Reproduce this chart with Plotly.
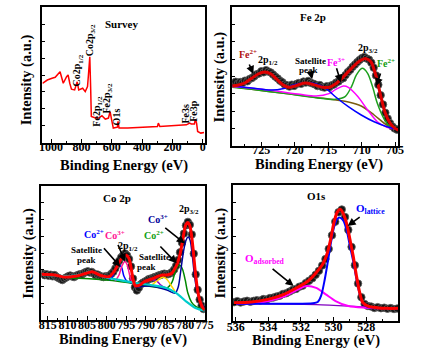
import plotly.graph_objects as go

W, H = 443, 353
FONT = "Liberation Serif"

# ---------------- Survey ----------------
survey_be = [1057, 1025, 994, 973, 941, 930, 920, 898, 888, 877, 866, 845, 828, 818, 792, 775, 760, 754, 745,
             739, 735, 707, 686, 665, 643, 622, 611, 601, 590, 563, 559, 552, 495, 299, 293, 283, 108, 87, 76,
             55, 49, 41, 34, 13, -8]
survey_int = [43.9, 46.3, 47.6, 48.3, 52.4, 48.8, 43.9, 48.8, 50, 43.9, 39.5, 39, 45, 39, 40.2, 37.7, 41.4, 50,
              63.5, 39, 19.3, 18.2, 18.2, 19.9, 17.4, 18.2, 23, 16.9, 10.8, 11.5, 15.7, 10.8, 10.8, 12, 14.5, 12,
              13.2, 14.5, 13.8, 13.8, 17.4, 14.5, 8.3, 7.1, 7.6]

# ---------------- Fe 2p ----------------
fe_data_be = [729.2, 728.85, 728.5, 728.15, 727.8, 727.45, 727.1, 726.75, 726.4, 726.05, 725.7, 725.35, 725.0,
              724.65, 724.3, 723.95, 723.6, 723.25, 722.9, 722.55, 722.2, 721.85, 721.5, 721.15, 720.8, 720.45,
              720.1, 719.75, 719.4, 719.05, 718.7, 718.35, 718.0, 717.65, 717.3, 716.95, 716.6, 716.25, 715.9,
              715.55, 715.2, 714.85, 714.5, 714.15, 713.8, 713.45, 713.1, 712.75, 712.4, 712.05, 711.7, 711.35,
              711.0, 710.65, 710.3, 709.95, 709.6, 709.25, 708.9, 708.55, 708.2, 707.85, 707.5, 707.15, 706.8,
              706.45, 706.1, 705.75, 705.4, 705.05, 704.7]
fe_data_int = [45.0, 46.2, 44.8, 46.0, 45.4, 47.0, 46.5, 48.2, 48.9, 50.1, 51.6, 52.2, 53.8, 53.0, 54.6, 53.6,
               52.9, 51.4, 49.9, 48.6, 46.9, 45.8, 44.2, 43.6, 42.7, 44.1, 43.2, 44.6, 45.3, 44.7, 46.3, 45.6,
               46.8, 45.4, 44.9, 44.2, 43.1, 43.8, 42.4, 42.0, 43.0, 42.3, 43.6, 44.2, 45.6, 46.4, 48.1, 48.8,
               51.0, 53.2, 54.8, 57.0, 58.6, 60.4, 62.0, 63.3, 64.1, 63.0, 62.2, 60.0, 56.4, 50.8, 44.0, 36.5,
               29.8, 23.8, 19.6, 16.3, 13.9, 12.4, 11.6]
fe_fit_be = [729.34, 728.37, 727.41, 726.45, 725.48, 724.52, 723.55, 722.59, 721.63, 720.90, 719.70, 718.73,
             718.01, 716.81, 715.84, 714.88, 713.92, 712.95, 711.99, 711.02, 710.06, 709.34, 708.61, 707.89,
             707.17, 706.45, 705.72, 705.0, 704.52]
fe_fit_int = [43.1, 43.9, 45.5, 48.7, 51.8, 53.3, 51.8, 47.5, 43.6, 42.2, 43.6, 45.1, 45.1, 43.6, 42.2, 42.2,
              44.6, 48.7, 53.5, 58.3, 61.9, 62.9, 60.7, 51.1, 36.6, 23.4, 16.1, 12.5, 11.3]
fe_sat_be = [729.34, 726.45, 723.55, 721.63, 720.18, 718.25, 716.81, 715.36, 713.92, 711.99, 710.06, 708.13,
             706.20, 704.52]
fe_sat_int = [43.1, 41.7, 40.2, 41.4, 43.9, 45.5, 44.6, 41.4, 35.4, 28.2, 22.2, 17.3, 13.7, 11.8]
fe3_be = [729.34, 724.04, 719.22, 716.81, 714.88, 713.92, 712.71, 711.99, 710.54, 709.10, 707.65, 706.20, 704.52]
fe3_int = [42.7, 40.2, 37.1, 35.9, 37.6, 40.5, 43.1, 42.2, 35.4, 25.8, 17.3, 13.3, 11.8]
fe2_be = [729.34, 726.45, 721.63, 716.81, 713.92, 712.47, 711.51, 710.78, 709.92, 709.10, 708.37, 707.65,
          706.69, 705.72, 704.52]
fe2_int = [42.2, 40.7, 37.8, 34.7, 33.5, 35.4, 42.7, 51.1, 55.9, 52.3, 42.7, 30.6, 19.8, 13.7, 11.8]
fe_bg_be = [729.34, 726.45, 721.63, 716.81, 711.99, 710.06, 708.13, 706.20, 704.52]
fe_bg_int = [42.7, 40.7, 37.8, 34.9, 31.6, 28.7, 22.2, 14.9, 11.8]

# ---------------- Co 2p ----------------
co_data_be = [816.3, 815.8, 815.3, 814.8, 814.3, 813.8, 813.3, 812.8, 812.3, 811.8, 811.3, 810.8, 810.3, 809.8,
              809.3, 808.8, 808.3, 807.8, 807.3, 806.8, 806.3, 805.8, 805.3, 804.8, 804.3, 803.8, 803.3, 802.8,
              802.3, 801.8, 801.3, 800.8, 800.3, 799.8, 799.3, 798.8, 798.3, 797.8, 797.3, 796.8, 796.3, 795.8,
              795.3, 794.8, 794.3, 793.8, 793.3, 792.8, 792.3, 791.8, 791.3, 790.8, 790.3, 789.8, 789.3, 788.8,
              788.3, 787.8, 787.3, 786.8, 786.3, 785.8, 785.3, 784.8, 784.3, 783.8, 783.3, 782.8, 782.3, 781.8,
              781.3, 780.8, 780.3, 779.8, 779.3, 778.8, 778.3, 777.8, 777.3, 776.8, 776.3, 775.8, 775.3]
co_data_int = [34.6, 33.4, 34.1, 33.0, 33.8, 32.6, 33.5, 32.2, 31.4, 30.6, 29.8, 30.9, 31.8, 32.6, 33.2, 32.4,
               32.0, 33.1, 33.6, 34.2, 34.0, 35.1, 35.8, 36.3, 35.4, 35.9, 34.7, 33.4, 33.9, 33.0, 32.4, 32.0,
               32.7, 32.4, 33.3, 34.5, 36.0, 38.5, 41.6, 44.2, 46.8, 48.4, 49.6, 48.2, 45.5, 40.0, 31.0, 24.5,
               22.0, 24.0, 26.6, 27.8, 28.6, 29.4, 30.5, 30.9, 31.2, 32.0, 32.4, 33.2, 33.5, 34.1, 34.6, 33.9,
               34.3, 34.8, 35.9, 37.6, 40.4, 44.8, 50.5, 57.6, 64.5, 70.6, 73.2, 71.0, 63.8, 49.5, 34.0, 22.5,
               15.2, 10.8, 8.2]
co_fit_be = [816.63, 813.36, 810.89, 807.62, 805.16, 803.68, 801.85, 801.04, 799.39, 798.16, 796.93, 795.94,
             795.13, 794.32, 793.83, 793.23, 792.67, 791.61, 790.38, 788.74, 787.09, 785.86, 784.63, 783.38,
             782.57, 782.16, 781.34, 780.53, 779.86, 779.37, 778.87, 778.38, 777.89, 777.40, 776.83, 776.29,
             775.60, 775.06]
co_fit_int = [34.1, 33.6, 32.1, 32.8, 34.9, 36.0, 33.6, 32.8, 32.3, 36.0, 42.3, 47.2, 48.5, 46.0, 39.8, 29.9,
              25.4, 26.1, 28.6, 30.4, 32.3, 33.6, 33.6, 34.9, 38.6, 41.0, 48.5, 61.2, 70.9, 72.8, 70.9, 63.4,
              50.7, 35.8, 22.4, 14.9, 9.7, 7.5]
co_bg_be = [816.63, 813.36, 809.25, 805.97, 804.25, 802.77, 801.04, 796.93, 792.83, 788.74, 784.63, 782.16,
            779.69, 777.22, 775.06]
co_bg_int = [33.6, 33.2, 32.8, 34.3, 36.2, 35.1, 32.5, 29.9, 27.8, 26.1, 23.7, 19.9, 13.7, 8.7, 6.9]
co2_p12_be = [799.39, 798.58, 797.84, 796.93, 796.24, 795.62, 794.89, 793.66]
co2_p12_int = [29.9, 32.1, 37.3, 41.0, 39.6, 32.8, 29.1, 27.6]
co3_p12_be = [797.84, 796.85, 796.11, 795.37, 794.76, 794.15, 793.41, 792.42]
co3_p12_int = [29.1, 33.6, 40.3, 43.7, 41.0, 33.6, 27.6, 26.1]
co_sat1_be = [792.1, 790.6, 789.2, 788.2, 787.2, 786.2, 785.0]
co_sat1_int = [26.1, 27.6, 29.9, 30.2, 29.1, 26.1, 23.9]
co_sat2_be = [788.74, 787.5, 786.2, 785.5, 784.5, 783.5, 782.6]
co_sat2_int = [25.4, 28.4, 31.3, 32.1, 29.9, 25.4, 21.6]
co2_p32_be = [809.25, 803.51, 798.58, 792.83, 788.74, 784.63, 783.3, 782.57, 781.84, 781.22, 780.6, 779.98,
              779.3, 778.38, 777.40, 776.41, 775.06]
co2_p32_int = [31.3, 30.6, 29.4, 27.0, 25.0, 23.9, 28.4, 35.8, 40.3, 40.7, 37.3, 29.9, 20.1, 13.4, 10.4, 9.0, 7.5]
co3_p32_be = [792.83, 788.74, 784.63, 782.57, 781.76, 781.09, 780.35, 779.74, 779.25, 778.75, 778.26, 777.77,
              777.15, 776.41, 775.60, 775.06]
co3_p32_int = [24.6, 25.4, 22.4, 19.9, 24.6, 37.3, 52.2, 59.7, 61.9, 59.7, 50.7, 37.3, 23.9, 15.7, 11.2, 9.0]

# ---------------- O 1s ----------------
o_data_be = [536.1, 535.9, 535.7, 535.5, 535.3, 535.1, 534.9, 534.7, 534.5, 534.3, 534.1, 533.9, 533.7, 533.5,
             533.3, 533.1, 532.9, 532.7, 532.5, 532.3, 532.1, 531.9, 531.7, 531.5, 531.3, 531.1, 530.9, 530.7,
             530.5, 530.3, 530.1, 529.9, 529.7, 529.5, 529.3, 529.1, 528.9, 528.7, 528.5, 528.3, 528.1, 527.9,
             527.7, 527.5, 527.3, 527.1, 526.9, 526.7, 526.5, 526.3, 526.1]
o_data_int = [13.8, 14.6, 13.6, 14.3, 14.9, 14.1, 14.8, 15.3, 15.0, 16.1, 15.8, 16.9, 17.2, 18.0, 18.6, 19.9,
              20.4, 21.6, 22.9, 23.6, 25.2, 26.0, 27.9, 29.6, 31.4, 34.0, 36.9, 40.8, 45.5, 53.0, 63.0, 73.0,
              80.0, 82.0, 76.5, 67.0, 54.5, 41.0, 27.5, 17.5, 12.5, 11.0, 10.6, 9.6, 10.2, 9.4, 9.8, 9.0, 9.5,
              8.8, 9.2]
o_fit_be = [536.10, 535.01, 534.03, 533.04, 532.06, 531.56, 531.07, 530.67, 530.38, 530.18, 529.98, 529.79,
            529.59, 529.39, 529.19, 529.0, 528.80, 528.60, 528.40, 528.21, 527.91, 527.32, 526.73, 526.04]
o_fit_int = [13.5, 14.0, 15.9, 19.6, 25.7, 29.4, 35.5, 41.7, 50.2, 60.0, 72.3, 79.7, 82.1, 78.4, 71.1, 60.0,
             47.8, 33.1, 20.8, 13.5, 11.0, 9.8, 9.3, 9.3]
o_lat_be = [536.10, 533.04, 531.27, 530.97, 530.77, 530.58, 530.38, 530.18, 529.98, 529.79, 529.59, 529.39,
            529.19, 529.0, 528.80, 528.60, 528.40, 528.21, 527.91, 527.12, 526.04]
o_lat_int = [12.7, 12.7, 13.0, 14.0, 18.4, 28.2, 41.7, 56.4, 68.6, 74.8, 76.0, 73.5, 66.2, 55.1, 44.1, 30.6,
             19.6, 13.0, 10.3, 9.6, 9.3]
o_ads_be = [536.10, 535.01, 534.03, 533.04, 532.25, 531.66, 531.07, 530.48, 529.88, 529.10, 528.11, 526.04]
o_ads_int = [12.7, 13.2, 14.5, 17.9, 22.8, 25.7, 24.3, 19.6, 14.7, 11.0, 9.8, 9.3]
o_bg_be = [536.10, 531.07, 528.11, 526.04]
o_bg_int = [12.7, 12.0, 10.3, 9.3]

# ---------------- figure ----------------
fig = go.Figure()


def line(x, y, color, width, ax, smooth=0.8):
    fig.add_trace(go.Scatter(x=x, y=y, mode="lines", xaxis="x" + ax, yaxis="y" + ax,
                             line=dict(color=color, width=width, shape="spline", smoothing=smooth),
                             hoverinfo="skip"))


def dots(x, y, ax):
    fig.add_trace(go.Scatter(x=x, y=y, mode="markers", xaxis="x" + ax, yaxis="y" + ax,
                             marker=dict(symbol="circle", size=7.5, color="#151515",
                                         line=dict(width=0.8, color="#606060")),
                             hoverinfo="skip"))


# survey
fig.add_trace(go.Scatter(x=survey_be, y=survey_int, mode="lines", xaxis="x", yaxis="y",
                         line=dict(color="#FF0000", width=1.5), hoverinfo="skip"))
# Fe 2p
dots(fe_data_be, fe_data_int, "2")
line(fe_bg_be, fe_bg_int, "#7A5C10", 1.5, "2")
line(fe2_be, fe2_int, "#1DA01D", 1.5, "2")
line(fe3_be, fe3_int, "#FF00FF", 1.5, "2")
line(fe_sat_be, fe_sat_int, "#0000FF", 1.5, "2")
line(fe_fit_be, fe_fit_int, "#E00000", 3, "2")
# Co 2p
dots(co_data_be, co_data_int, "3")
line(co2_p32_be, co2_p32_int, "#008800", 1.5, "3")
line(co_sat1_be, co_sat1_int, "#9900CC", 1.5, "3")
line(co_sat2_be, co_sat2_int, "#FFD700", 1.5, "3")
line(co2_p12_be, co2_p12_int, "#0000FF", 1.5, "3")
line(co3_p12_be, co3_p12_int, "#FF1493", 1.5, "3")
line(co3_p32_be, co3_p32_int, "#000099", 1.5, "3")
line(co_bg_be, co_bg_int, "#00CCCC", 2.2, "3")
line(co_fit_be, co_fit_int, "#FF0000", 3, "3")
# O 1s
dots(o_data_be, o_data_int, "4")
line(o_bg_be, o_bg_int, "#8000C0", 1.2, "4")
line(o_ads_be, o_ads_int, "#FF00FF", 2, "4")
line(o_lat_be, o_lat_int, "#0000FF", 2, "4")
line(o_fit_be, o_fit_int, "#FF0000", 3, "4")


def dom(a, b, total):
    return [a / total, b / total]


def ydom(top, bottom):
    return [1 - bottom / H, 1 - top / H]


tickfont = dict(family=FONT, size=12, color="black", weight="bold")


def xax(domain, rng, tick0, dtick, anchor, standoff):
    return dict(domain=domain, range=rng, autorange=False, anchor=anchor, tickmode="linear", tick0=tick0,
                dtick=dtick, ticks="inside", ticklen=4, tickwidth=1.3, tickcolor="black", showline=True,
                linewidth=2, linecolor="black", mirror=True, showgrid=False, zeroline=False,
                tickfont=tickfont, ticklabelstandoff=standoff, tickangle=0,
                minor=dict(ticks="inside", ticklen=2, tickcolor="black", dtick=dtick / 2, showgrid=False))


def yax(domain, anchor):
    return dict(domain=domain, range=[0, 100], autorange=False, anchor=anchor, tickmode="linear", tick0=0,
                dtick=12.5, ticks="inside", ticklen=3, tickwidth=1.2, tickcolor="black", showticklabels=False,
                showline=True, linewidth=2, linecolor="black", mirror=True, showgrid=False, zeroline=False)


fig.update_layout(
    width=W, height=H, margin=dict(l=0, r=0, t=0, b=0), paper_bgcolor="white", plot_bgcolor="white",
    showlegend=False,
    xaxis=xax(dom(37.7, 205.5, W), [1057.3, -11.5], 0, 200, "y", -8),
    yaxis=yax(ydom(7.3, 142.7), "x"),
    xaxis2=xax(dom(234, 406, W), [729.38, 704.52], 705, 5, "y2", -8),
    yaxis2=yax(ydom(7.3, 145.7), "x2"),
    xaxis3=xax(dom(36.7, 205.7, W), [816.63, 775.0], 775, 5, "y3", -7),
    yaxis3=yax(ydom(186, 320), "x3"),
    xaxis4=xax(dom(235, 406, W), [536.16, 526.04], 526, 2, "y4", -6),
    yaxis4=yax(ydom(185, 321), "x4"),
)

ann = []


def txt(x, y, s, ax, color="black", size=10, angle=0):
    ann.append(dict(x=x, y=y, xref="x" + ax, yref="y" + ax, text="<b>" + s + "</b>", showarrow=False,
                    xanchor="center", yanchor="middle", textangle=angle,
                    font=dict(family=FONT, size=size, color=color)))


def arrow(x0, y0, x1, y1, ax):
    ann.append(dict(x=x1, y=y1, ax=x0, ay=y0, xref="x" + ax, yref="y" + ax, axref="x" + ax, ayref="y" + ax,
                    text="", showarrow=True, arrowhead=2, arrowsize=1, arrowwidth=1.6, arrowcolor="black"))


def ptxt(x, y, s, size=14.5, angle=0):
    ann.append(dict(x=x / W, y=1 - y / H, xref="paper", yref="paper", text="<b>" + s + "</b>",
                    xanchor="center", yanchor="middle", showarrow=False, textangle=angle,
                    font=dict(family=FONT, size=size, color="black")))


# survey labels
txt(533, 88.0, "Survey", "", size=11)
txt(819.7, 53.7, "Co2p<sub>1/2</sub>", "", size=10, angle=-90)
txt(743.3, 75.7, "Co2p<sub>3/2</sub>", "", size=10, angle=-90)
txt(692.3, 23.5, "Fe2p<sub>1/2</sub>", "", size=10, angle=-90)
txt(626.7, 33.1, "Fe2p<sub>3/2</sub>", "", size=10, angle=-90)
txt(566.8, 19.3, "O1s", "", size=10, angle=-90)
txt(112.7, 21.3, "Fe3s", "", size=10, angle=-90)
txt(61.7, 23.9, "Fe3p", "", size=10, angle=-90)

# Fe 2p labels
txt(717.28, 93.2, "Fe 2p", "2", size=11)
txt(727.07, 66.3, "Fe<sup>2+</sup>", "2", color="#B01010", size=10)
arrow(726.9, 59.8, 726.2, 51.8, "2")
txt(724.03, 61.4, "2p<sub>1/2</sub>", "2", size=10)
txt(717.63, 61.4, "Satellite", "2", size=9)
txt(718.0, 54.9, "peak", "2", size=9)
arrow(717.6, 52.5, 717.4, 48.0, "2")
txt(713.9, 60.7, "Fe<sup>3+</sup>", "2", color="#FF00FF", size=10)
arrow(713.82, 57.1, 713.1, 45.6, "2")
txt(709.0, 69.9, "2p<sub>3/2</sub>", "2", size=10)
txt(706.4, 59.8, "Fe<sup>2+</sup>", "2", color="#11A011", size=10)
arrow(707.1, 53.2, 707.8, 43.1, "2")

# Co 2p labels
txt(797.35, 91.3, "Co 2p", "3", size=11)
txt(803.14, 64.2, "Co<sup>2+</sup>", "3", color="#0000FF", size=10)
txt(797.96, 63.4, "Co<sup>3+</sup>", "3", color="#FF1493", size=10)
txt(794.5, 55.2, "2p<sub>1/2</sub>", "3", size=10)
txt(805.15, 52.2, "Satellite", "3", size=9)
txt(805.15, 44.8, "peak", "3", size=9)
arrow(801.04, 54.7, 796.53, 39.8, "3")
arrow(797.27, 57.2, 795.3, 43.5, "3")
txt(787.91, 47.2, "Satellite", "3", size=9)
txt(789.84, 39.2, "peak", "3", size=9)
txt(787.0, 75.7, "Co<sup>3+</sup>", "3", color="#000099", size=10)
txt(787.87, 63.4, "Co<sup>2+</sup>", "3", color="#11A011", size=10)
txt(779.0, 82.5, "2p<sub>3/2</sub>", "3", size=10)
arrow(785.45, 69.6, 780.1, 57.2, "3")
arrow(786.68, 56.0, 782.15, 42.3, "3")

# O 1s labels
txt(531.07, 91.9, "O1s", "4", size=11)
txt(527.71, 82.1, "O<sub>lattice</sub>", "4", color="#0000FF", size=11)
arrow(528.31, 77.2, 529.14, 69.9, "4")
txt(534.22, 45.4, "O<sub>adsorbed</sub>", "4", color="#FF00FF", size=11)
arrow(533.83, 39.2, 532.45, 25.7, "4")

# axis titles
for cx, cy in [(122, 165.5), (323.5, 164.5), (121, 339.5), (321, 340.5)]:
    ptxt(cx, cy, "Binding Energy (eV)")
for cx, cy in [(21, 80), (221, 77), (22.5, 253), (221, 253)]:
    ptxt(cx, cy, "Intensity (a.u.)", angle=-90)

fig.update_layout(annotations=ann)
fig.write_html("out.html")
